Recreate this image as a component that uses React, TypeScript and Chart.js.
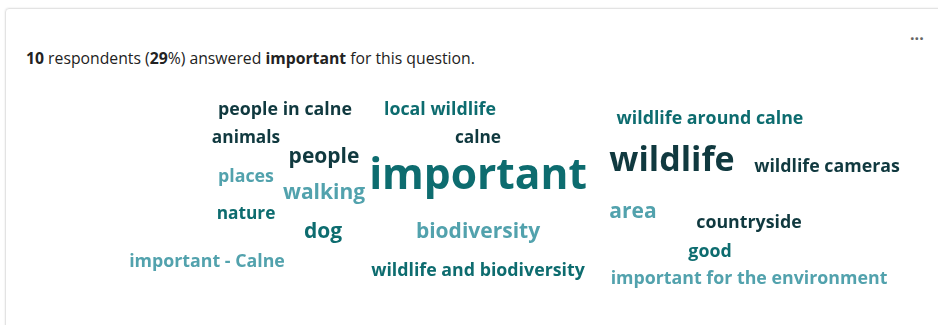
import React, { useEffect, useRef } from "react";
import { Chart, registerables } from "chart.js";

Chart.register(...registerables);

// Word cloud data: each word, how often it was mentioned, and its place in the cloud layout
const words = [
  "important",
  "wildlife",
  "people",
  "walking",
  "dog",
  "biodiversity",
  "area",
  "people in calne",
  "local wildlife",
  "places",
  "important - Calne",
  "wildlife and biodiversity",
  "wildlife around calne",
  "wildlife cameras",
  "countryside",
  "good",
  "important for the environment",
  "animals",
  "calne",
  "nature",
];
const counts = [10, 6, 3, 3, 3, 3, 3, 2, 2, 2, 2, 2, 2, 2, 2, 2, 2, 1, 1, 1];
const layoutX = [478, 672, 324, 324, 323, 478, 633, 285, 440, 246, 207, 478, 710, 827, 749, 710, 749, 246, 478, 246];
const layoutY = [177, 161, 157, 193, 232, 232, 212, 110, 110, 177, 262, 271, 119, 167, 223, 252, 279, 138, 138, 214];
const tones = [1, 0, 0, 2, 1, 2, 2, 0, 1, 2, 2, 1, 1, 0, 0, 1, 2, 0, 0, 1];

const palette = ["#10393f", "#0d6c6f", "#52a2ad"];
const sizeFor = (c: number) => (c >= 10 ? 42.5 : c >= 6 ? 34 : c >= 3 ? 21 : c >= 2 ? 17.8 : 17.3);

const wordPlugin = {
  id: "wordText",
  afterDatasetsDraw(chart: any) {
    const ctx = chart.ctx;
    const meta = chart.getDatasetMeta(0);
    ctx.save();
    ctx.textAlign = "center";
    ctx.textBaseline = "middle";
    meta.data.forEach((pt: any, i: number) => {
      ctx.font = `bold ${sizeFor(counts[i])}px "Open Sans", sans-serif`;
      ctx.fillStyle = palette[tones[i]];
      ctx.fillText(words[i], pt.x, pt.y);
    });
    ctx.restore();
  },
};

export default function App() {
  const ref = useRef<HTMLCanvasElement>(null);
  useEffect(() => {
    if (!ref.current) return;
    const chart = new Chart(ref.current, {
      type: "scatter",
      data: {
        datasets: [
          {
            data: words.map((_, i) => ({ x: layoutX[i], y: layoutY[i] })),
            pointRadius: 0,
            pointHoverRadius: 0,
          },
        ],
      },
      options: {
        animation: false,
        responsive: false,
        layout: { padding: 0 },
        plugins: { legend: { display: false }, tooltip: { enabled: false } },
        scales: {
          x: { type: "linear", min: 0, max: 938, display: false },
          y: { type: "linear", min: 0, max: 325, reverse: true, display: false },
        },
        events: [],
      },
      plugins: [wordPlugin],
    });
    return () => chart.destroy();
  }, []);

  return (
    <div style={{ position: "fixed", left: 0, top: 0, width: 938, height: 325, overflow: "hidden", background: "#fff" }}>
      <div
        style={{
          position: "absolute",
          left: 5,
          top: 8,
          width: 1000,
          height: 400,
          border: "1px solid #e3e3e3",
          borderRadius: 4,
          boxShadow: "0 0 2px rgba(0,0,0,0.12)",
          boxSizing: "border-box",
        }}
      />
      <div
        style={{
          position: "absolute",
          left: 26,
          top: 47,
          fontFamily: '"Open Sans", sans-serif',
          fontSize: 15.75,
          color: "#222",
          whiteSpace: "nowrap",
        }}
      >
        <b style={{ fontWeight: 700 }}>10</b> respondents (<b>29</b>%) answered <b>important</b> for this question.
      </div>
      <div
        style={{
          position: "absolute",
          left: 910,
          top: 27,
          fontFamily: '"Open Sans", sans-serif',
          fontSize: 16,
          fontWeight: 700,
          color: "#666",
          letterSpacing: 0,
        }}
      >
        ···
      </div>
      <canvas ref={ref} width={938} height={325} style={{ position: "absolute", left: 0, top: 0, width: 938, height: 325 }} />
    </div>
  );
}
